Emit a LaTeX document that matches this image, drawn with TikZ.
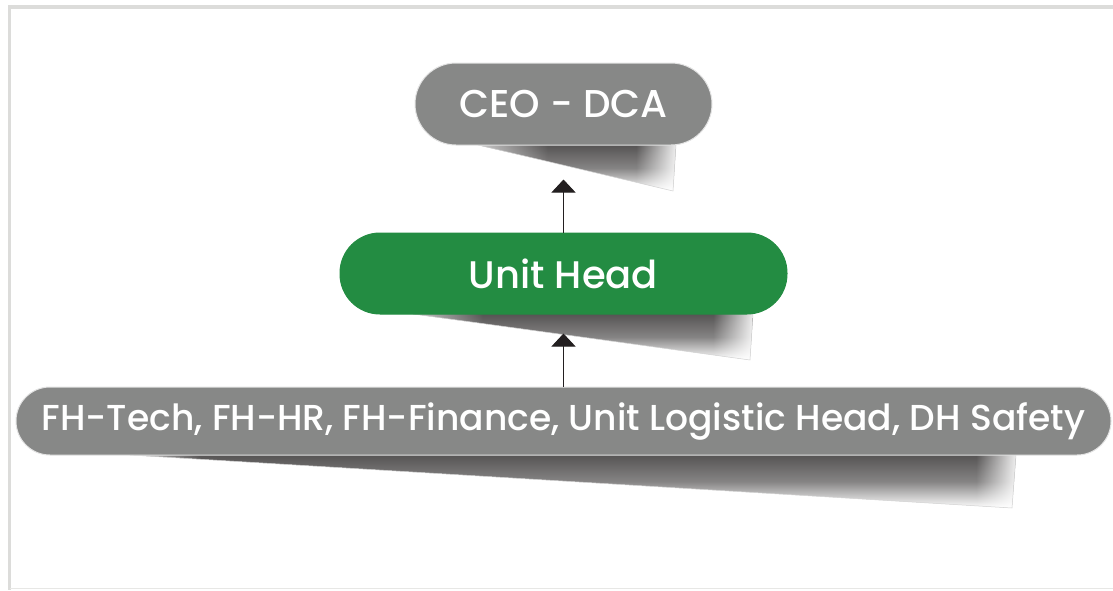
\documentclass[tikz,border=0pt]{standalone}
\usepackage{fontspec}
\setmainfont{Poppins}[UprightFont=* Medium]
\usetikzlibrary{arrows.meta,fadings}
\definecolor{pillgray}{HTML}{878887}
\definecolor{pillgreen}{HTML}{238C42}
\definecolor{framegray}{HTML}{DCDCDA}
\definecolor{linecol}{HTML}{231F20}
\definecolor{shadowdark}{HTML}{565454}
\tikzfading[name=whiteright, left color=transparent!100, right color=transparent!10]
\tikzfading[name=whiteleft, left color=transparent!30, right color=transparent!100]
% #1 left tip x, #2 right top x, #3 right bottom x, #4 top y, #5 bottom y
\newcommand\shadowwedge[5]{%
  \begin{scope}
    \clip (#1,#4) -- (#2,#4) -- (#3,#5) -- cycle;
    \shade[top color=shadowdark, bottom color=white, middle color=shadowdark!72] (#1,#4) rectangle (#2,#5);
    \fill[white, path fading=whiteright] ({#2-40},#4) rectangle (#2,#5);
    \fill[white, path fading=whiteleft] (#1,#4) rectangle ({#1+70},#5);
  \end{scope}
  \draw[black!18, line width=0.5pt] (#2,#4) -- (#3,#5) -- (#1,#4);
}
\tikzset{
  pill/.style={rounded corners=#1, inner sep=0pt, text=white, draw=white!78!gray, line width=1pt},
  conn/.style={draw=linecol, line width=0.9pt, -{Triangle[width=24pt,length=13pt]}}
}
\begin{document}
\begin{tikzpicture}[x=1pt,y=-1pt]
\useasboundingbox (0,0) rectangle (1113,590);
% frame
\draw[framegray, line width=4pt] (9.5,7) -- (1113,7);
\draw[framegray, line width=3.5pt] (9.5,5) -- (9.5,590);
\draw[framegray!70, line width=1.5pt] (9.5,588.5) -- (1113,588.5);
% shadows
\shadowwedge{478}{676}{673}{145}{191}
\shadowwedge{413}{753}{750}{314}{360}
\shadowwedge{130}{1016}{1012}{455}{508}
% nodes
\node[pill=41pt, fill=pillgray, minimum width=297pt, minimum height=82pt] (ceo) at (563.5,104) {\resizebox{208pt}{!}{CEO - DCA}};
\node[pill=40pt, fill=pillgreen, draw=pillgreen, minimum width=447pt, minimum height=81pt] (unit) at (563.5,273.5) {\resizebox{189pt}{!}{Unit Head}};
\node[pill=34pt, fill=pillgray, minimum width=1095pt, minimum height=68pt] (staff) at (563.5,421) {\resizebox{1043pt}{!}{FH-Tech, FH-HR, FH-Finance, Unit Logistic Head, DH Safety}};
% connectors
\draw[conn, shorten >=34pt] (unit) -- (ceo);
\draw[conn, shorten >=19pt] (staff) -- (unit);
\end{tikzpicture}
\end{document}
